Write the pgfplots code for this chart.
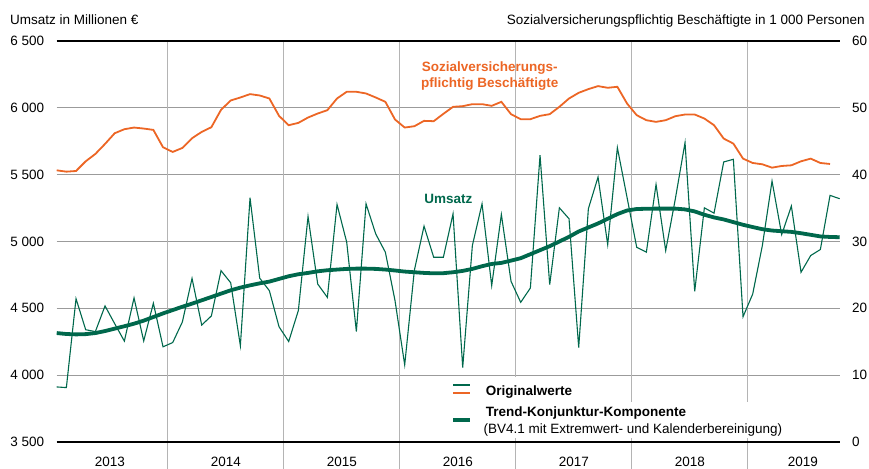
\documentclass[border=0pt]{standalone}
\usepackage{fontspec}
\setmainfont{Liberation Sans}
\usepackage{pgfplots}
\usepackage{pgfplotstable}
\pgfplotsset{compat=1.18}
\definecolor{dgreen}{RGB}{0,104,76}
\definecolor{dorange}{RGB}{236,102,37}
\definecolor{hgrid}{RGB}{155,155,155}
\definecolor{vgrid}{RGB}{180,180,180}

\pgfplotstableread{
m v
0 3912
1 3907
2 4572
3 4340
4 4326
5 4518
6 4385
7 4255
8 4578
9 4256
10 4538
11 4212
12 4244
13 4398
14 4724
15 4375
16 4443
17 4782
18 4691
19 4220
20 5327
21 4726
22 4632
23 4362
24 4252
25 4484
26 5187
27 4682
28 4582
29 5277
30 4995
31 4327
32 5282
33 5057
34 4920
35 4557
36 4077
37 4785
38 5115
39 4882
40 4882
41 5207
42 4057
43 4970
44 5282
45 4670
46 5202
47 4702
48 4545
49 4652
50 5645
51 4677
52 5252
53 5170
54 4207
55 5245
56 5482
57 4977
58 5702
59 5330
60 4957
61 4920
62 5427
63 4932
64 5320
65 5740
66 4627
67 5252
68 5212
69 5595
70 5615
71 4437
72 4607
73 4970
74 5452
75 5052
76 5265
77 4770
78 4895
79 4940
80 5345
81 5320
}\orig

\pgfplotstableread{
m v
0 4315
1 4308
2 4305
3 4307
4 4315
5 4330
6 4348
7 4366
8 4385
9 4408
10 4435
11 4462
12 4487
13 4512
14 4535
15 4560
16 4585
17 4610
18 4635
19 4655
20 4672
21 4687
22 4700
23 4720
24 4740
25 4755
26 4765
27 4777
28 4785
29 4790
30 4795
31 4797
32 4797
33 4795
34 4790
35 4783
36 4775
37 4770
38 4765
39 4762
40 4763
41 4770
42 4780
43 4795
44 4815
45 4832
46 4840
47 4857
48 4875
49 4905
50 4935
51 4965
52 5000
53 5035
54 5075
55 5105
56 5135
57 5170
58 5205
59 5232
60 5243
61 5245
62 5246
63 5246
64 5246
65 5240
66 5225
67 5200
68 5180
69 5165
70 5145
71 5125
72 5108
73 5092
74 5082
75 5077
76 5072
77 5062
78 5050
79 5038
80 5034
81 5032
}\trend

\pgfplotstableread{
m v
0 40.65
1 40.45
2 40.55
3 42.0
4 43.1
5 44.6
6 46.2
7 46.8
8 47.05
9 46.9
10 46.7
11 44.1
12 43.4
13 44.0
14 45.45
15 46.4
16 47.1
17 49.7
18 51.1
19 51.55
20 52.05
21 51.85
22 51.4
23 48.8
24 47.4
25 47.75
26 48.55
27 49.15
28 49.65
29 51.4
30 52.4
31 52.4
32 52.15
33 51.55
34 50.9
35 48.25
36 47.05
37 47.25
38 48.05
39 48.0
40 49.1
41 50.15
42 50.25
43 50.55
44 50.55
45 50.3
46 50.9
47 49.05
48 48.3
49 48.3
50 48.8
51 49.05
52 50.15
53 51.4
54 52.25
55 52.8
56 53.25
57 53.0
58 53.15
59 50.65
60 48.9
61 48.15
62 47.9
63 48.15
64 48.75
65 49.0
66 49.0
67 48.4
68 47.4
69 45.4
70 44.65
71 42.4
72 41.75
73 41.55
74 41.05
75 41.3
76 41.4
77 42.0
78 42.4
79 41.75
80 41.6
}\emp

\begin{document}
\fontsize{13.5}{16}\selectfont
\begin{tikzpicture}
\path[use as bounding box] (-56.7pt,-26pt) rectangle (812.3pt,442pt);
\begin{axis}[
  at={(0pt,0pt)}, anchor=south west,
  scale only axis, width=783pt, height=401pt,
  xmin=0, xmax=81, ymin=3500, ymax=6500,
  axis line style={draw=none},
  clip=false,
  ytick={3500,4000,4500,5000,5500,6000,6500},
  yticklabels={3 500,4 000,4 500,5 000,5 500,6 000,6 500},
  ymajorgrids,
  grid style={hgrid, line width=0.9pt},
  ytick pos=left,
  xtick pos=left,
  major tick length=0pt,
  tick style={vgrid, line width=1.2pt},
  yticklabel style={anchor=east, inner sep=0pt, xshift=-12.4pt},
  xtick={5.5,17.5,29.5,41.5,53.5,65.5,77.2},
  xticklabels={2013,2014,2015,2016,2017,2018,2019},
  xticklabel style={anchor=base, inner sep=0pt, yshift=-24.7pt},
  extra x ticks={11.5,23.5,35.5,47.5,59.5,71.5},
  extra x tick labels={},
  extra x tick style={grid=major, major grid style={vgrid, line width=1.2pt},
     major tick length=30pt, tick align=outside},
]
\addplot[dgreen, line width=1.1pt] table[x=m,y=v]{\orig};
\addplot[dgreen, line width=3.8pt] table[x=m,y=v]{\trend};
\end{axis}
\begin{axis}[
  at={(0pt,0pt)}, anchor=south west,
  scale only axis, width=783pt, height=401pt,
  xmin=0, xmax=81, ymin=0, ymax=60,
  axis x line=none, axis y line*=right,
  y axis line style={draw=none},
  ytick={0,10,20,30,40,50,60},
  yticklabels={0,10,20,30,40,50,60},
  major tick length=0pt,
  yticklabel style={anchor=west, inner sep=0pt, xshift=12.3pt},
  clip=false,
]
\addplot[dorange, line width=1.8pt] table[x=m,y=v]{\emp};
\end{axis}
\draw[black, line width=2.2pt] (0pt,0pt) -- (783pt,0pt);
\draw[black, line width=1.8pt] (0pt,401pt) -- (783pt,401pt);
% legend
\fill[white] (393.3pt,40pt) rectangle (571.3pt,65pt);
\fill[white] (393.3pt,4pt) rectangle (733.3pt,40pt);
\draw[dgreen, line width=1.1pt] (396.3pt,57pt) -- (413.3pt,57pt);
\draw[dorange, line width=1.8pt] (396.3pt,49.3pt) -- (413.3pt,49.3pt);
\draw[dgreen, line width=3.6pt] (396.3pt,22pt) -- (413.3pt,22pt);
\node[anchor=base west, inner sep=0pt, font=\bfseries] at (429pt,46pt) {Originalwerte};
\node[anchor=base west, inner sep=0pt, font=\bfseries] at (429pt,25.3pt) {Trend-Konjunktur-Komponente};
\node[anchor=base west, inner sep=0pt] at (426.6pt,8.7pt) {(BV4.1 mit Extremwert- und Kalenderbereinigung)};
% titles
\node[anchor=base west, inner sep=0pt] at (-46.7pt,417pt) {Umsatz in Millionen €};
\node[anchor=base east, inner sep=0pt] at (808.3pt,417pt) {Sozialversicherungspflichtig Beschäftigte in 1 000 Personen};
% annotations
\node[anchor=base, inner sep=0pt, font=\bfseries, text=dorange] at (433pt,370.3pt) {Sozialversicherungs-};
\node[anchor=base, inner sep=0pt, font=\bfseries, text=dorange] at (433pt,354.7pt) {pflichtig Beschäftigte};
\node[anchor=base, inner sep=0pt, font=\bfseries, text=dgreen] at (391.6pt,238.7pt) {Umsatz};
\end{tikzpicture}
\end{document}
